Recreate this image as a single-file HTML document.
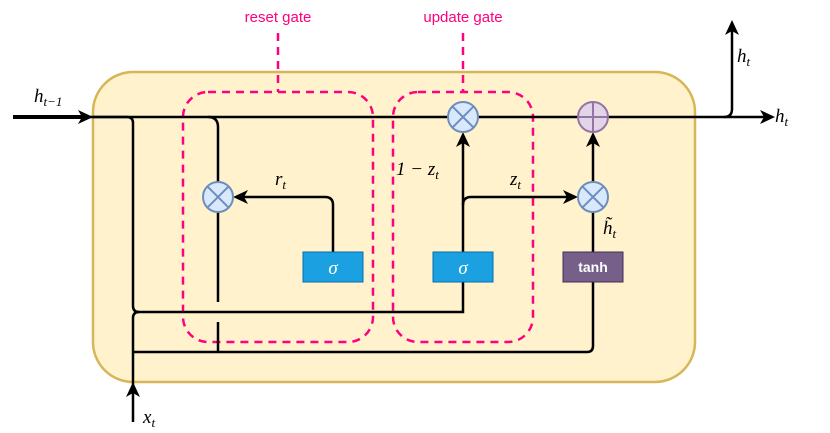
<!DOCTYPE html>
<html><head><meta charset="utf-8"><style>
html,body{margin:0;padding:0;background:#fff;}
svg{display:block;}
.m{font-family:"Liberation Serif",serif;font-style:italic;font-size:19px;fill:#000;}
.s{font-size:13px;}
</style></head><body>
<svg width="830" height="433" viewBox="0 0 830 433" xmlns="http://www.w3.org/2000/svg">
<rect x="93" y="72" width="602" height="310" rx="40" fill="#fff2cc" stroke="#d6b656" stroke-width="2.5"/>
<g fill="none" stroke="#ff0080" stroke-width="2.5" stroke-dasharray="8,6">
<rect x="183" y="92" width="190" height="250" rx="25"/>
<rect x="393" y="92" width="140" height="250" rx="25"/>
<line x1="278" y1="33" x2="278" y2="92"/>
<line x1="463" y1="33" x2="463" y2="92"/>
</g>
<text x="278" y="22" text-anchor="middle" font-family="Liberation Sans,sans-serif" font-size="15" fill="#ff0080">reset gate</text>
<text x="463" y="22" text-anchor="middle" font-family="Liberation Sans,sans-serif" font-size="15" fill="#ff0080">update gate</text>
<g fill="none" stroke="#000" stroke-width="2.5">
<line x1="13" y1="117" x2="85" y2="117" stroke-width="4"/>
<line x1="85" y1="117" x2="765" y2="117"/>
<path d="M93 117 H127 Q133 117 133 123 V306 Q133 312 139 312 H463 V282"/>
<path d="M133 422 V318 Q133 312 139 312"/>
<path d="M133 352 H587 Q593 352 593 346 V282"/>
<path d="M208 117 Q218 117 218 127 V182"/>
<line x1="218" y1="212" x2="218" y2="302"/>
<line x1="218" y1="322" x2="218" y2="352"/>
<path d="M333 252 V205 Q333 197 325 197 H240"/>
<path d="M463 252 V140"/>
<path d="M463 205 Q463 197 471 197 H572"/>
<line x1="593" y1="252" x2="593" y2="212"/>
<line x1="593" y1="182" x2="593" y2="140"/>
<path d="M724 117 Q732 117 732 109 V30"/>
</g>
<g fill="#000">
<polygon points="93,117 78,110 82,117 78,124"/>
<polygon points="775,117 760,110 764,117 760,124"/>
<polygon points="732,20 725,35 732,31 739,35"/>
<polygon points="133,382 126,397 133,393 140,397"/>
<polygon points="233,197 248,190 244,197 248,204"/>
<polygon points="463,132 456,147 463,143 470,147"/>
<polygon points="593,132 586,147 593,143 600,147"/>
<polygon points="578,197 563,190 567,197 563,204"/>
</g>
<g stroke="#6c8ebf" stroke-width="2" fill="#dae8fc">
<circle cx="218" cy="197" r="15"/><path d="M207.4 186.4 L228.6 207.6 M228.6 186.4 L207.4 207.6"/>
<circle cx="463" cy="117" r="15"/><path d="M452.4 106.4 L473.6 127.6 M473.6 106.4 L452.4 127.6"/>
<circle cx="593" cy="197" r="15"/><path d="M582.4 186.4 L603.6 207.6 M603.6 186.4 L582.4 207.6"/>
</g>
<g stroke="#9673a6" stroke-width="2" fill="#e1d5e7">
<circle cx="593" cy="117" r="15"/><path d="M578 117 H608 M593 102 V132"/>
</g>
<rect x="303" y="252" width="60" height="30" fill="#1ba1e2" stroke="#006eaf"/>
<rect x="433" y="252" width="60" height="30" fill="#1ba1e2" stroke="#006eaf"/>
<rect x="563" y="252" width="60" height="30" fill="#76608a" stroke="#432d57"/>
<text x="333" y="274" text-anchor="middle" font-family="Liberation Serif,serif" font-style="italic" font-size="19" fill="#fff">σ</text>
<text x="463" y="274" text-anchor="middle" font-family="Liberation Serif,serif" font-style="italic" font-size="19" fill="#fff">σ</text>
<text x="593" y="272" text-anchor="middle" font-family="Liberation Sans,sans-serif" font-size="14" font-weight="bold" fill="#fff">tanh</text>
<text class="m" x="34" y="102">h<tspan class="s" dy="4">t−1</tspan></text>
<text class="m" x="275" y="185">r<tspan class="s" dy="4">t</tspan></text>
<text class="m" x="396" y="175" font-style="normal">1 − <tspan font-style="italic">z</tspan><tspan class="s" dy="4">t</tspan></text>
<text class="m" x="510" y="185">z<tspan class="s" dy="4">t</tspan></text>
<text class="m" x="603" y="234">h̃<tspan class="s" dy="4">t</tspan></text>
<text class="m" x="737" y="62">h<tspan class="s" dy="4">t</tspan></text>
<text class="m" x="775" y="122">h<tspan class="s" dy="4">t</tspan></text>
<text class="m" x="143" y="423">x<tspan class="s" dy="4">t</tspan></text>
</svg>
</body></html>
